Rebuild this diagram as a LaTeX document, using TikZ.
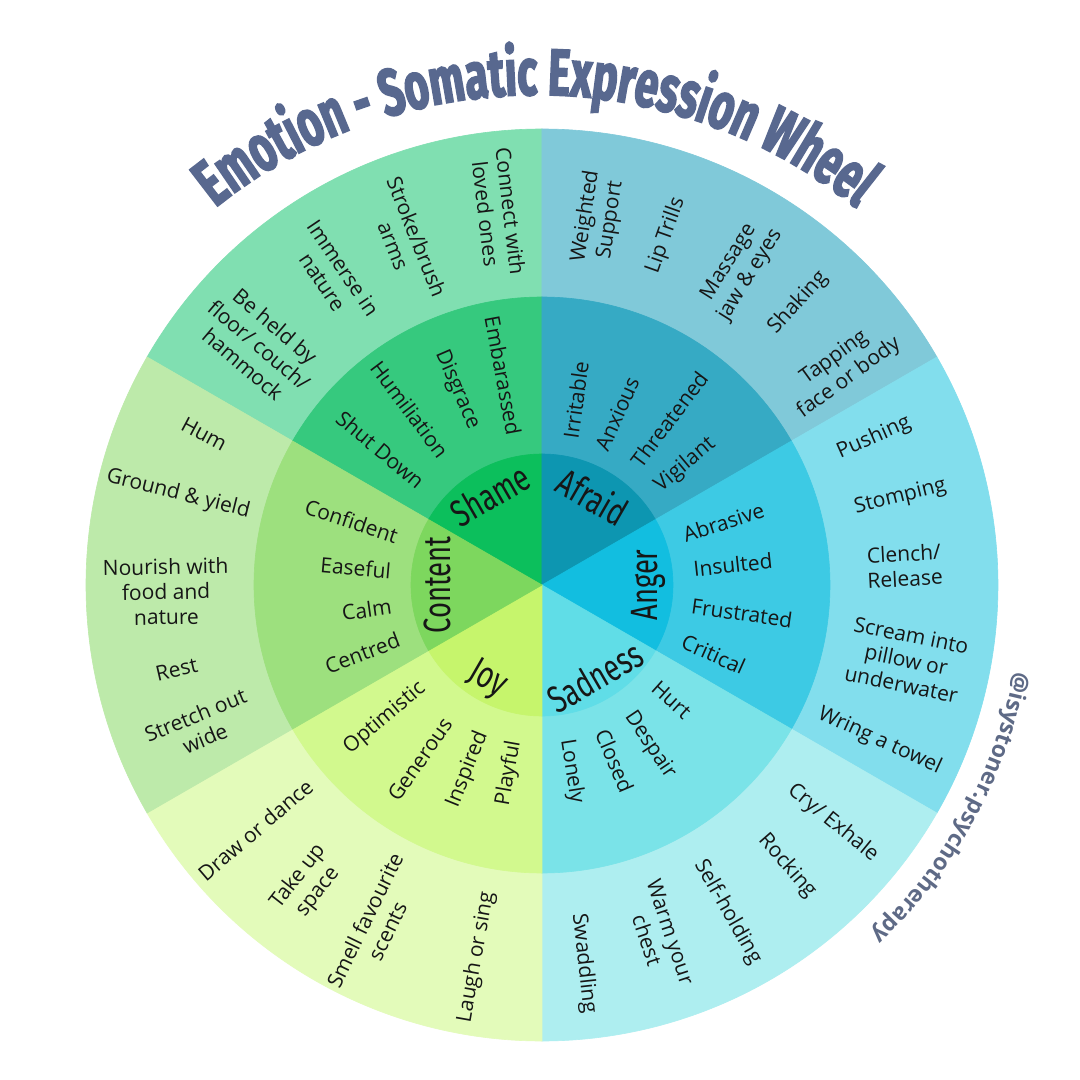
\documentclass[tikz,border=0pt]{standalone}
\usepackage{fontspec}
\setmainfont{Open Sans}
\newfontfamily\hubfont[FakeStretch=0.72]{Fira Sans}
\newfontfamily\titlefont[FakeStretch=0.63, FakeBold=2.5]{Fira Sans}
\usetikzlibrary{decorations.text}
\definecolor{ink}{HTML}{161616}
\definecolor{titleblue}{HTML}{58688F}
\definecolor{handle}{HTML}{5E6A86}
\definecolor{shameIn}{HTML}{0CBF5C}
\definecolor{shameMid}{HTML}{36C97E}
\definecolor{shameOut}{HTML}{80DFB1}
\definecolor{afraidIn}{HTML}{0D96B1}
\definecolor{afraidMid}{HTML}{36AAC4}
\definecolor{afraidOut}{HTML}{80C9D9}
\definecolor{angerIn}{HTML}{12BEE0}
\definecolor{angerMid}{HTML}{3DCAE4}
\definecolor{angerOut}{HTML}{82DEED}
\definecolor{sadIn}{HTML}{60DDE7}
\definecolor{sadMid}{HTML}{7AE3E8}
\definecolor{sadOut}{HTML}{AEEEF0}
\definecolor{joyIn}{HTML}{C6F56C}
\definecolor{joyMid}{HTML}{D2F98E}
\definecolor{joyOut}{HTML}{E3FBBA}
\definecolor{contentIn}{HTML}{7DD75E}
\definecolor{contentMid}{HTML}{9DE07E}
\definecolor{contentOut}{HTML}{BDEAAA}

\begin{document}
\begin{tikzpicture}[x=1pt, y=1pt,
    seg/.style={fill=#1, draw=#1, line width=0.6pt},
    hub/.style={font=\hubfont\fontsize{38}{40}\selectfont, text=ink, inner sep=0pt},
    feel/.style={font=\fontsize{21}{25}\selectfont, text=ink, align=center, inner sep=0pt},
]

% Canvas
\useasboundingbox (-542,-495) rectangle (538,585);
\fill[white] (-542,-495) rectangle (538,585);

% Outer ring
\path[seg=shameOut] (0,0) -- (90:456) arc[start angle=90, end angle=150, radius=456] -- cycle;
\path[seg=afraidOut] (0,0) -- (30:456) arc[start angle=30, end angle=90, radius=456] -- cycle;
\path[seg=angerOut] (0,0) -- (-30:456) arc[start angle=-30, end angle=30, radius=456] -- cycle;
\path[seg=sadOut] (0,0) -- (-90:456) arc[start angle=-90, end angle=-30, radius=456] -- cycle;
\path[seg=joyOut] (0,0) -- (-150:456) arc[start angle=-150, end angle=-90, radius=456] -- cycle;
\path[seg=contentOut] (0,0) -- (150:456) arc[start angle=150, end angle=210, radius=456] -- cycle;

% Middle ring
\path[seg=shameMid] (0,0) -- (90:288) arc[start angle=90, end angle=150, radius=288] -- cycle;
\path[seg=afraidMid] (0,0) -- (30:288) arc[start angle=30, end angle=90, radius=288] -- cycle;
\path[seg=angerMid] (0,0) -- (-30:288) arc[start angle=-30, end angle=30, radius=288] -- cycle;
\path[seg=sadMid] (0,0) -- (-90:288) arc[start angle=-90, end angle=-30, radius=288] -- cycle;
\path[seg=joyMid] (0,0) -- (-150:288) arc[start angle=-150, end angle=-90, radius=288] -- cycle;
\path[seg=contentMid] (0,0) -- (150:288) arc[start angle=150, end angle=210, radius=288] -- cycle;

% Inner ring
\path[seg=shameIn] (0,0) -- (90:131) arc[start angle=90, end angle=150, radius=131] -- cycle;
\path[seg=afraidIn] (0,0) -- (30:131) arc[start angle=30, end angle=90, radius=131] -- cycle;
\path[seg=angerIn] (0,0) -- (-30:131) arc[start angle=-30, end angle=30, radius=131] -- cycle;
\path[seg=sadIn] (0,0) -- (-90:131) arc[start angle=-90, end angle=-30, radius=131] -- cycle;
\path[seg=joyIn] (0,0) -- (-150:131) arc[start angle=-150, end angle=-90, radius=131] -- cycle;
\path[seg=contentIn] (0,0) -- (150:131) arc[start angle=150, end angle=210, radius=131] -- cycle;

% Core emotions
\node[hub, rotate=30] (shame) at (120:104) {Shame};
\node[hub, rotate=-30] (afraid) at (60:102) {Afraid};
\node[hub, rotate=90] (anger) at (0:106) {Anger};
\node[hub, rotate=30] (sadness) at (-60:106) {Sadness};
\node[hub, rotate=-30] (joy) at (-120:110) {Joy};
\node[hub, rotate=90] (content) at (180:105) {Content};

% Shame feelings
\node[feel, rotate=-79.5] (embar) at (100.5:213) {Embarassed};
\node[feel, rotate=-66.5] (disgrace) at (113.5:213) {Disgrace};
\node[feel, rotate=-53] (humil) at (127:220) {Humiliation};
\node[feel, rotate=-40] (shutdown) at (140:211) {Shut Down};

% Afraid feelings
\node[feel, rotate=82] (irritable) at (79.6:188) {Irritable};
\node[feel, rotate=66] (anxious) at (66.3:187) {Anxious};
\node[feel, rotate=53] (threat) at (52.5:209) {Threatened};
\node[feel, rotate=40] (vigilant) at (40:187) {Vigilant};

% Anger feelings
\node[feel, rotate=18] (abrasive) at (19:192) {Abrasive};
\node[feel, rotate=6] (insulted) at (6:192) {Insulted};
\node[feel, rotate=-8] (frustr) at (-8:202) {Frustrated};
\node[feel, rotate=-24] (critical) at (-22:185) {Critical};

% Sadness feelings
\node[feel, rotate=-42] (hurt) at (-41.5:173) {Hurt};
\node[feel, rotate=-56] (despair) at (-56:193) {Despair};
\node[feel, rotate=-67] (closed) at (-67.5:190) {Closed};
\node[feel, rotate=-81] (lonely) at (-81:189) {Lonely};

% Joy feelings
\node[feel, rotate=40] (optim) at (-139.7:206) {Optimistic};
\node[feel, rotate=55] (generous) at (-125:213) {Generous};
\node[feel, rotate=68] (inspired) at (-112:199) {Inspired};
\node[feel, rotate=80] (playful) at (-100:191) {Playful};

% Content feelings
\node[feel, rotate=-18.6] (confident) at (161.4:201) {Confident};
\node[feel, rotate=-5] (easeful) at (174.8:187) {Easeful};
\node[feel, rotate=8] (calm) at (188:177) {Calm};
\node[feel, rotate=20.7] (centred) at (200.7:192) {Centred};

% Shame expressions
\node[feel, rotate=-83.3] (connect) at (96.7:375) {Connect with\\loved ones};
\node[feel, rotate=-68.3] (stroke) at (111.7:370) {Stroke/brush\\arms};
\node[feel, rotate=-56] (immerse) at (124:374) {Immerse in\\nature};
\node[feel, rotate=-40.3] (held) at (139.7:371) {Be held by\\floor/ couch/\\hammock};

% Afraid expressions
\node[feel, rotate=81.3] (weighted) at (81.3:371) {Weighted\\Support};
\node[feel, rotate=70.5] (trills) at (70.5:371) {Lip Trills};
\node[feel, rotate=58] (massage) at (58:373) {Massage\\jaw \& eyes};
\node[feel, rotate=47.8] (shaking) at (47.8:381) {Shaking};
\node[feel, rotate=35.9] (tapping) at (35.9:370) {Tapping\\face or body};

% Anger expressions
\node[feel, rotate=23.9] (pushing) at (23.9:363) {Pushing};
\node[feel, rotate=13.8] (stomping) at (13.8:369) {Stomping};
\node[feel, rotate=3] (clench) at (3:363) {Clench/\\Release};
\node[feel, rotate=-11.6] (scream) at (-11.6:372) {Scream into\\pillow or\\underwater};
\node[feel, rotate=-24.8] (wring) at (-24.8:372) {Wring a towel};

% Sadness expressions
\node[feel, rotate=-39.3] (cry) at (-39.3:376) {Cry/ Exhale};
\node[feel, rotate=-48.9] (rocking) at (-48.9:373) {Rocking};
\node[feel, rotate=-60.4] (selfhold) at (-60.4:376) {Self-holding};
\node[feel, rotate=-71.6] (warm) at (-71.6:370) {Warm your\\chest};
\node[feel, rotate=-83.7] (swaddle) at (-83.7:381) {Swaddling};

% Joy expressions
\node[feel, rotate=40.5] (draw) at (-139.5:377) {Draw or dance};
\node[feel, rotate=52] (takeup) at (-128:380) {Take up\\space};
\node[feel, rotate=64] (smell) at (-116:379) {Smell favourite\\scents};
\node[feel, rotate=80] (laugh) at (-100:378) {Laugh or sing};

% Content expressions
\node[feel, rotate=-28] (hum) at (155.9:370) {Hum};
\node[feel, rotate=-14] (ground) at (166:375) {Ground \& yield};
\node[feel, rotate=1] (nourish) at (181:376) {Nourish with\\food and\\nature};
\node[feel, rotate=13] (rest) at (193:375) {Rest};
\node[feel, rotate=22.5] (stretch) at (202.5:370) {Stretch out\\wide};

% Title
\path[decorate, decoration={text along path, text align=center, text color=titleblue,
    text={|\titlefont\bfseries\fontsize{66}{70}\selectfont|Emotion - Somatic Expression Wheel}}]
    (-6,-21) ++(150:511) arc[start angle=150, end angle=30, radius=511];

% Handle
\path[decorate, decoration={text along path, text align=center, text color=handle,
    text={|\bfseries\fontsize{23}{23}\selectfont|@isystoner.psychotherapy}}]
    (-6:480) arc[start angle=-6, end angle=-51, radius=480];

\end{tikzpicture}
\end{document}
